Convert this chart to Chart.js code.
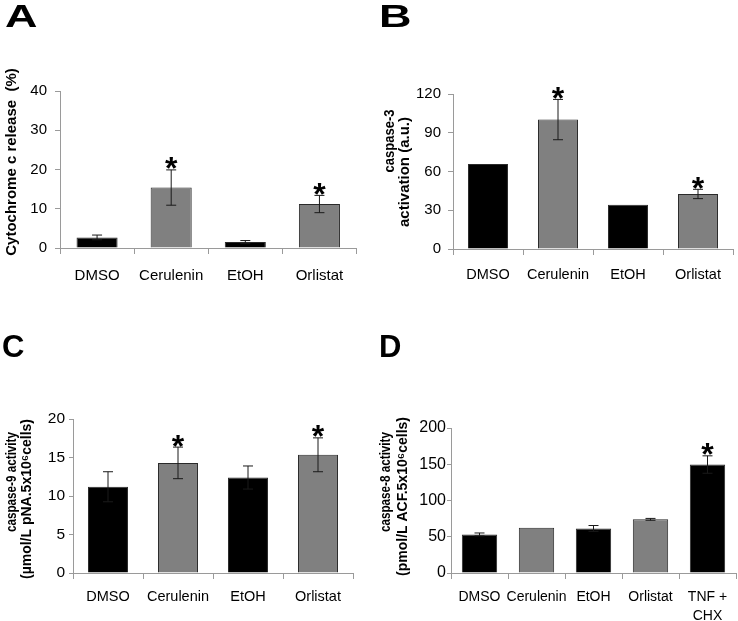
<!DOCTYPE html>
<html>
<head>
<meta charset="utf-8">
<script src="https://cdn.jsdelivr.net/npm/chart.js@4.4.1/dist/chart.umd.min.js"></script>
<style>
  html, body { margin: 0; padding: 0; background: #fff; }
  #quadro { position: relative; width: 738px; height: 621px; overflow: hidden; }
  .painel { position: absolute; }
  .letra { position: absolute; font: bold 31px "Liberation Sans", Arial, sans-serif; line-height: 1; transform-origin: left top; }
</style>
</head>
<body>
<div id="quadro">
  <canvas class="painel" id="graficoA" width="369" height="300" style="left:0;top:0"></canvas>
  <canvas class="painel" id="graficoB" width="369" height="300" style="left:369px;top:0"></canvas>
  <canvas class="painel" id="graficoC" width="369" height="321" style="left:0;top:300px"></canvas>
  <canvas class="painel" id="graficoD" width="369" height="321" style="left:369px;top:300px"></canvas>
  <div class="letra" style="left:5px;top:1px;transform:scaleX(1.45)">A</div>
  <div class="letra" style="left:379px;top:1px;transform:scaleX(1.45)">B</div>
  <div class="letra" style="left:2px;top:331px">C</div>
  <div class="letra" style="left:379px;top:331px">D</div>
</div>
<script>
// Dados
const rotulosA = ['DMSO', 'Cerulenin', 'EtOH', 'Orlistat'];
const valoresA = [2.7, 15.4, 1.5, 11.2];
const errosA = [0.6, 4.5, 0.4, 2.2];
const asteriscosA = [false, true, false, true];
const ticksA = [0, 10, 20, 30, 40];

const rotulosB = ['DMSO', 'Cerulenin', 'EtOH', 'Orlistat'];
const valoresB = [65.8, 100.2, 34.3, 42.6];
const errosB = [0, 15.6, 0, 3.6];
const asteriscosB = [false, true, false, true];
const ticksB = [0, 30, 60, 90, 120];

const rotulosC = ['DMSO', 'Cerulenin', 'EtOH', 'Orlistat'];
const valoresC = [11.2, 14.3, 12.4, 15.35];
const errosC = [1.95, 2.05, 1.5, 2.2];
const asteriscosC = [false, true, false, true];
const ticksC = [0, 5, 10, 15, 20];

const rotulosD = ['DMSO', 'Cerulenin', 'EtOH', 'Orlistat', ['TNF +', 'CHX']];
const valoresD = [53.2, 62.3, 61.5, 74.0, 149.6];
const errosD = [2, 0, 4, 1.3, 12];
const asteriscosD = [false, false, false, false, true];
const ticksD = [0, 50, 100, 150, 200];

// Tratamentos com droga aparecem em cinza, controles em preto
const tratamentos = ['Cerulenin', 'Orlistat'];

const fonte = '"Liberation Sans", Arial, sans-serif';

// Plugin para barras de erro e asteriscos
const barrasDeErro = {
    id: 'barrasDeErro',
    afterDatasetsDraw(chart, args, opts) {
        const ctx = chart.ctx;
        const escalaY = chart.scales.y;
        const meta = chart.getDatasetMeta(0);
        const valores = chart.data.datasets[0].data;
        ctx.save();
        meta.data.forEach((barra, i) => {
            const v = valores[i];
            const e = opts.erros[i];
            let topo = barra.y;
            if (e) {
                const yAlto = escalaY.getPixelForValue(v + e);
                const yBaixo = escalaY.getPixelForValue(v - e);
                ctx.strokeStyle = '#1a1a1a';
                ctx.lineWidth = 1;
                ctx.beginPath();
                ctx.moveTo(barra.x, yBaixo);
                ctx.lineTo(barra.x, yAlto);
                ctx.moveTo(barra.x - 5, yAlto);
                ctx.lineTo(barra.x + 5, yAlto);
                ctx.moveTo(barra.x - 5, yBaixo);
                ctx.lineTo(barra.x + 5, yBaixo);
                ctx.stroke();
                topo = yAlto;
            }
            if (opts.asteriscos[i]) {
                ctx.fillStyle = '#000';
                ctx.font = 'bold 32px ' + fonte;
                ctx.textAlign = 'center';
                ctx.textBaseline = 'alphabetic';
                ctx.fillText('*', barra.x, topo - 8 + 0.55 * 32);
            }
        });
        ctx.restore();
    }
};

// Plugin para o titulo vertical do eixo y (linhas independentes)
const tituloLateral = {
    id: 'tituloLateral',
    afterDraw(chart, args, opts) {
        const ctx = chart.ctx;
        ctx.save();
        ctx.fillStyle = '#000';
        ctx.font = 'bold ' + opts.tamanho + 'px ' + fonte;
        ctx.textAlign = 'center';
        ctx.textBaseline = 'middle';
        opts.linhas.forEach(l => {
            ctx.save();
            ctx.translate(l.x, l.y);
            ctx.rotate(-Math.PI / 2);
            // comprime so no sentido do texto, quando a linha e mais curta
            if (l.w) ctx.scale(l.w / ctx.measureText(l.t).width, 1);
            ctx.fillText(l.t, 0, 0);
            ctx.restore();
        });
        ctx.restore();
    }
};

// Funcao para criar cada painel
function criarGrafico(id, rotulos, valores, erros, asteriscos, ticks, cfg) {
    const cores = rotulos.map(r => tratamentos.includes(r) ? '#808080' : '#000000');
    const ctx = document.getElementById(id).getContext('2d');
    return new Chart(ctx, {
        type: 'bar',
        data: {
            labels: rotulos,
            datasets: [{
                data: valores,
                backgroundColor: cores,
                borderColor: '#2a2a2a',
                borderWidth: 1,
                barPercentage: cfg.larguraBarra,
                categoryPercentage: 1,
            }],
        },
        options: {
            responsive: false,
            animation: false,
            layout: { padding: { left: 0, top: cfg.topo, right: cfg.direita, bottom: 0 } },
            plugins: {
                legend: { display: false },
                tooltip: { enabled: false },
                barrasDeErro: { erros: erros, asteriscos: asteriscos },
                tituloLateral: { tamanho: cfg.tamanhoTitulo, linhas: cfg.titulo },
            },
            scales: {
                x: {
                    afterFit: s => { s.height = cfg.alturaX; },
                    grid: { offset: true, drawOnChartArea: false, color: '#9a9a9a', tickLength: 6 },
                    border: { color: '#9a9a9a' },
                    ticks: { color: '#000', padding: cfg.padX, maxRotation: 0, autoSkip: false,
                             font: { family: fonte, size: cfg.fonteX, lineHeight: 1.4 } },
                },
                y: {
                    min: ticks[0],
                    max: ticks[ticks.length - 1],
                    afterFit: s => { s.width = cfg.larguraY; },
                    grid: { drawOnChartArea: false, color: '#9a9a9a', tickLength: cfg.tickY },
                    border: { color: '#9a9a9a' },
                    ticks: { color: '#000', stepSize: ticks[1] - ticks[0], padding: cfg.padY,
                             font: { family: fonte, size: cfg.fonteY } },
                },
            },
        },
        plugins: [barrasDeErro, tituloLateral],
    });
}

criarGrafico('graficoA', rotulosA, valoresA, errosA, asteriscosA, ticksA, {
    topo: 91, direita: 12.5, larguraY: 60, alturaX: 52, larguraBarra: 0.554,
    padX: 11, padY: 8, tickY: 5, fonteX: 15, fonteY: 15, tamanhoTitulo: 15,
    titulo: [{ t: 'Cytochrome c release  (%)', x: 12, y: 162 }],
});

criarGrafico('graficoB', rotulosB, valoresB, errosB, asteriscosB, ticksB, {
    topo: 94, direita: 5, larguraY: 84, alturaX: 51, larguraBarra: 0.571,
    padX: 10, padY: 7, tickY: 5, fonteX: 14.5, fonteY: 15, tamanhoTitulo: 15,
    titulo: [{ t: 'caspase-3', x: 21, y: 141, w: 63 }, { t: 'activation (a.u.)', x: 36, y: 172 }],
});

criarGrafico('graficoC', rotulosC, valoresC, errosC, asteriscosC, ticksC, {
    topo: 119, direita: 16, larguraY: 73, alturaX: 48, larguraBarra: 0.571,
    padX: 8, padY: 4, tickY: 4, fonteX: 14.5, fonteY: 15.5, tamanhoTitulo: 14,
    titulo: [{ t: 'caspase-9 activity', x: 12.5, y: 182, w: 100 }, { t: '(µmol/L pNA.5x10⁶cells)', x: 27, y: 199 }],
});

criarGrafico('graficoD', rotulosD, valoresD, errosD, asteriscosD, ticksD, {
    topo: 128, direita: 2, larguraY: 82, alturaX: 48, larguraBarra: 0.62,
    padX: 8, padY: 1, tickY: 4, fonteX: 14, fonteY: 16, tamanhoTitulo: 14,
    titulo: [{ t: 'caspase-8 activity', x: 17, y: 182, w: 100 }, { t: '(pmol/L ACF.5x10⁶cells)', x: 34, y: 196.5 }],
});
</script>
</body>
</html>
